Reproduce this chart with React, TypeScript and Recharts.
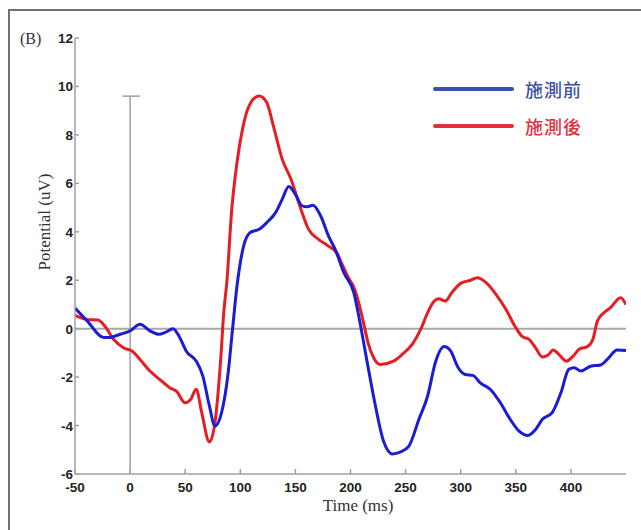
import React from "react";
import { LineChart, Line, XAxis, YAxis, ReferenceLine } from "recharts";

// time (ms) / potential (uV)
const beforeTimes = [
  -50, -39, -24, -18, -9, 0, 9, 18, 26, 32, 39, 45, 51, 60, 66, 72, 77, 83, 89,
  93, 97, 103, 109, 117, 124, 132, 138, 144, 150, 156, 161, 166, 173, 180, 186,
  194, 203, 208, 215, 222, 230, 238, 245, 253, 262, 270, 277, 285, 291, 297, 304,
  311, 318, 327, 336, 345, 353, 361, 368, 374, 383, 391, 398, 403, 409, 418, 427,
  433, 442, 450,
];
const beforeValues = [
  0.85, 0.32, -0.36, -0.36, -0.23, -0.09, 0.18, -0.09, -0.23, -0.15, 0, -0.36,
  -0.93, -1.34, -1.96, -3.2, -4.02, -3.47, -1.82, 0, 1.76, 3.41, 3.97, 4.1, 4.38,
  4.79, 5.34, 5.87, 5.55, 5.07, 5.03, 5.1, 4.65, 3.83, 3.28, 2.31, 1.49, 0.4,
  -1.35, -3.05, -4.65, -5.17, -5.1, -4.85, -3.75, -2.78, -1.4, -0.74, -0.93,
  -1.55, -1.89, -1.93, -2.25, -2.51, -3.06, -3.75, -4.23, -4.41, -4.16, -3.75,
  -3.47, -2.64, -1.68, -1.61, -1.75, -1.55, -1.5, -1.27, -0.88, -0.9,
];

const afterTimes = [
  -50, -39, -29, -23, -15, -6, 2, 9, 18, 27, 36, 42, 50, 55, 60, 65, 72, 77, 82,
  85, 88, 92, 97, 102, 108, 117, 124, 130, 138, 146, 155, 162, 171, 180, 188,
  192, 197, 204, 209, 213, 216, 221, 227, 239, 247, 256, 264, 270, 276, 280, 286,
  292, 300, 309, 315, 323, 332, 341, 350, 356, 362, 368, 374, 379, 384, 389, 396,
  402, 408, 415, 420, 424, 430, 436, 445, 450,
];
const afterValues = [
  0.55, 0.38, 0.36, 0.11, -0.44, -0.79, -0.93, -1.27, -1.75, -2.1, -2.44, -2.58,
  -3.06, -2.92, -2.5, -3.47, -4.68, -3.88, -1.4, 0.66, 2.04, 4.79, 6.86, 8.24,
  9.2, 9.61, 9.34, 8.37, 7.0, 6.17, 4.93, 4.1, 3.69, 3.41, 3.1, 2.7, 2.2, 1.6,
  0.8, 0, -0.6, -1.2, -1.48, -1.34, -1.06, -0.65, 0, 0.66, 1.14, 1.24, 1.14,
  1.49, 1.87, 2.0, 2.1, 1.9, 1.42, 0.8, 0.04, -0.33, -0.44, -0.79, -1.17, -1.1,
  -0.88, -1.06, -1.34, -1.13, -0.83, -0.74, -0.44, 0.31, 0.66, 0.87, 1.28, 1.0,
];

const xTicks = [-50, 0, 50, 100, 150, 200, 250, 300, 350, 400];
const yTicks = [-6, -4, -2, 0, 2, 4, 6, 8, 10, 12];

const legendItems = [
  { label: "施測前", line: "#3a4fa8", text: "#3f4fa6" },
  { label: "施測後", line: "#e0303a", text: "#e0303a" },
];

const beforeData = beforeTimes.map((t, i) => ({ t, v: beforeValues[i] }));
const afterData = afterTimes.map((t, i) => ({ t, v: afterValues[i] }));

const tickFont = {
  fontFamily: "Liberation Sans, Arial, sans-serif",
  fontWeight: 700,
  fontSize: 13.5,
  fill: "#222",
};

const XTick = (props: any) => {
  const { x, y, payload } = props;
  return (
    <g>
      <line x1={x} y1={y} x2={x} y2={y - 5} stroke="#a0a0a0" strokeWidth={1.5} />
      <text x={x} y={y + 18} textAnchor="middle" {...tickFont}>
        {payload.value}
      </text>
    </g>
  );
};

const YTick = (props: any) => {
  const { x, y, payload } = props;
  return (
    <g>
      <line x1={x} y1={y} x2={x + 4} y2={y} stroke="#a0a0a0" strokeWidth={1.5} />
      <text x={x - 2} y={y + 5} textAnchor="end" {...tickFont}>
        {payload.value}
      </text>
    </g>
  );
};

const serif = "Liberation Serif, Times New Roman, serif";

export default function App() {
  return (
    <div
      style={{
        position: "absolute",
        left: 0,
        top: 0,
        width: 641,
        height: 530,
        background: "#fff",
        overflow: "hidden",
      }}
    >
      {/* frame */}
      <div
        style={{
          position: "absolute",
          left: 8,
          top: 9,
          width: 640,
          height: 530,
          borderTop: "2px solid #707070",
          borderLeft: "2px solid #707070",
        }}
      />

      <div style={{ position: "absolute", left: 0, top: 0 }}>
        <LineChart
          width={641}
          height={530}
          margin={{ top: 38, right: 15, bottom: 26, left: 40 }}
        >
          <XAxis
            type="number"
            dataKey="t"
            domain={[-50, 450]}
            ticks={xTicks}
            tick={<XTick />}
            tickLine={false}
            tickSize={0}
            tickMargin={0}
            height={30}
            axisLine={{ stroke: "#a0a0a0", strokeWidth: 1.5 }}
            allowDataOverflow
          />
          <YAxis
            type="number"
            dataKey="v"
            domain={[-6, 12]}
            ticks={yTicks}
            tick={<YTick />}
            tickLine={false}
            tickSize={0}
            tickMargin={0}
            width={35}
            axisLine={{ stroke: "#a0a0a0", strokeWidth: 1.5 }}
            allowDataOverflow
          />
          <ReferenceLine y={0} stroke="#a8a8a8" strokeWidth={2} />
          <ReferenceLine
            segment={[
              { x: 0, y: -6 },
              { x: 0, y: 9.6 },
            ]}
            stroke="#a0a0a0"
            strokeWidth={1.5}
          />
          <ReferenceLine
            segment={[
              { x: -7, y: 9.6 },
              { x: 9, y: 9.6 },
            ]}
            stroke="#a0a0a0"
            strokeWidth={1.5}
          />
          <Line
            data={afterData}
            dataKey="v"
            type="monotone"
            stroke="#e41e22"
            strokeWidth={3}
            dot={false}
            isAnimationActive={false}
          />
          <Line
            data={beforeData}
            dataKey="v"
            type="monotone"
            stroke="#1c1cd2"
            strokeWidth={3}
            dot={false}
            isAnimationActive={false}
          />
        </LineChart>
      </div>

      {/* panel label and axis titles */}
      <div
        style={{
          position: "absolute",
          left: 20,
          top: 30,
          fontFamily: serif,
          fontSize: 16,
          color: "#333",
        }}
      >
        (B)
      </div>
      <div
        style={{
          position: "absolute",
          left: 45,
          top: 222,
          transform: "translate(-50%, -50%) rotate(-90deg)",
          fontFamily: serif,
          fontSize: 17,
          color: "#333",
          whiteSpace: "nowrap",
        }}
      >
        Potential (uV)
      </div>
      <div
        style={{
          position: "absolute",
          left: 358,
          top: 506,
          transform: "translate(-50%, -50%)",
          fontFamily: serif,
          fontSize: 17,
          color: "#333",
          whiteSpace: "nowrap",
        }}
      >
        Time (ms)
      </div>

      {/* legend */}
      {legendItems.map((item, i) => (
        <div
          key={item.label}
          style={{
            position: "absolute",
            left: 433,
            top: 78 + i * 37,
            display: "flex",
            alignItems: "center",
            height: 22,
          }}
        >
          <div
            style={{
              width: 81,
              height: 4,
              borderRadius: 2,
              background: item.line,
            }}
          />
          <span
            style={{
              marginLeft: 11,
              fontFamily: "Noto Sans CJK TC, sans-serif",
              fontWeight: 500,
              fontSize: 18,
              letterSpacing: 1,
              color: item.text,
            }}
          >
            {item.label}
          </span>
        </div>
      ))}
    </div>
  );
}
